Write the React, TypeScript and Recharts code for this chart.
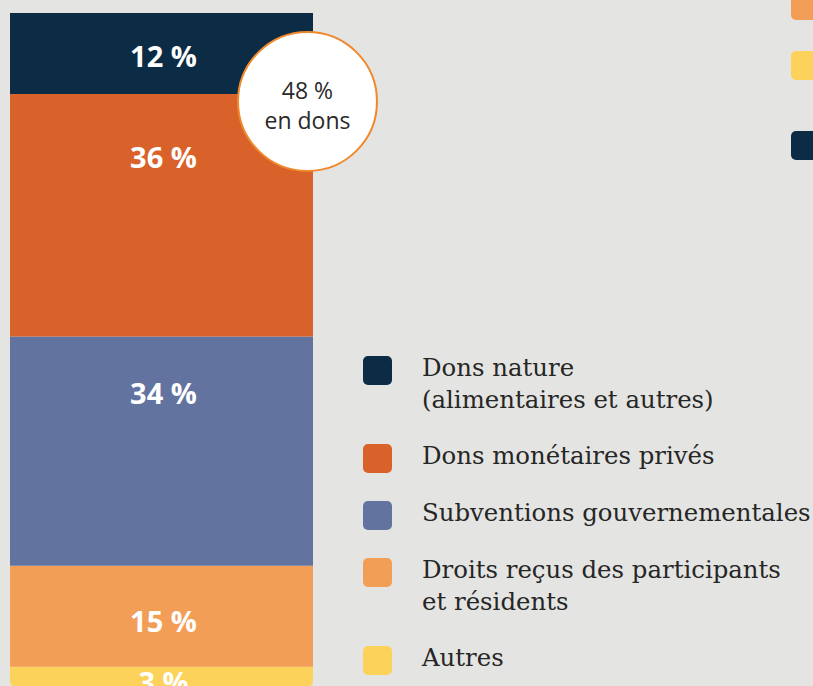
import React from 'react';
import { BarChart, Bar, XAxis, YAxis, Legend } from 'recharts';

const categories = ['Revenus'];
const seriesKeys = ['autres', 'droits', 'subventions', 'donsMonetaires', 'donsNature'];
const seriesNames = [
  'Autres',
  'Droits reçus des participants\net résidents',
  'Subventions gouvernementales',
  'Dons monétaires privés',
  'Dons nature\n(alimentaires et autres)',
];
const autres = [3];
const droits = [15];
const subventions = [34];
const donsMonetaires = [36];
const donsNature = [12];
const donsTotalLabel = ['48 %', 'en dons'];

const colors: Record<string, string> = {
  autres: '#fdd25a',
  droits: '#f29e57',
  subventions: '#63739f',
  donsMonetaires: '#d9622a',
  donsNature: '#0b2c44',
};
const labelOffsets: Record<string, number> = {
  autres: 15,
  droits: 55,
  subventions: 56,
  donsMonetaires: 63,
  donsNature: 42,
};

const seriesValues: Record<string, number[]> = { autres, droits, subventions, donsMonetaires, donsNature };

const data = categories.map((c, i) => {
  const row: Record<string, any> = { name: c };
  seriesKeys.forEach((k) => (row[k] = seriesValues[k][i]));
  return row;
});

const BG = '#e4e4e2';

const makeLabel = (key: string) => (p: any) => {
  const x = Number(p.x), y = Number(p.y), w = Number(p.width);
  const idx = typeof p.index === 'number' ? p.index : 0;
  const v = seriesValues[key][idx];
  return (
    <text
      x={x + w / 2 + 2}
      y={y + labelOffsets[key]}
      textAnchor="middle"
      dominantBaseline="central"
      fill="#ffffff"
      fontFamily="'Open Sans', sans-serif"
      fontWeight={700}
      fontSize={29}
    >
      {`${v} %`}
    </text>
  );
};

const legendOrder = ['donsNature', 'donsMonetaires', 'subventions', 'droits', 'autres'];

const LegendContent = () => (
  <div style={{ display: 'flex', flexDirection: 'column', gap: 24 }}>
    {legendOrder.map((k) => {
      const name = seriesNames[seriesKeys.indexOf(k)];
      return (
        <div key={k} style={{ display: 'flex', alignItems: 'flex-start' }}>
          <div
            style={{
              width: 29,
              height: 29,
              borderRadius: 5,
              background: colors[k],
              marginTop: 4,
              marginRight: 30,
              flexShrink: 0,
            }}
          />
          <div
            style={{
              fontFamily: "'DejaVu Serif', serif",
              fontSize: 24.4,
              lineHeight: '32px',
              color: '#262626',
              whiteSpace: 'pre',
              textAlign: 'left',
            }}
          >
            {name}
          </div>
        </div>
      );
    })}
  </div>
);

export default function App() {
  return (
    <div
      style={{
        position: 'absolute',
        left: 0,
        top: 0,
        width: 813,
        height: 686,
        overflow: 'hidden',
        background: BG,
      }}
    >
      <BarChart
        width={813}
        height={687}
        data={data}
        margin={{ top: 13, left: 10, right: 500.5, bottom: 0 }}
        barCategoryGap={0}
        barGap={0}
      >
        <XAxis dataKey="name" hide />
        <YAxis hide domain={[0, 100]} allowDataOverflow />
        <Legend
          content={<LegendContent />}
          layout="horizontal"
          verticalAlign="middle"
          align="center"
          wrapperStyle={{ position: 'absolute', left: 363, top: 352, width: 460 }}
        />
        {seriesKeys.map((k, i) => (
          <Bar
            key={k}
            dataKey={k}
            name={seriesNames[i]}
            stackId="a"
            fill={colors[k]}
            isAnimationActive={false}
            radius={k === 'autres' ? [0, 0, 6, 6] : 0}
            label={makeLabel(k)}
          />
        ))}
      </BarChart>

      <div
        style={{
          position: 'absolute',
          left: 237,
          top: 31,
          width: 141,
          height: 141,
          boxSizing: 'border-box',
          borderRadius: '50%',
          border: '2.5px solid #f0892c',
          background: '#ffffff',
          display: 'flex',
          flexDirection: 'column',
          alignItems: 'center',
          justifyContent: 'center',
          fontFamily: "'Open Sans', sans-serif",
          fontSize: 23,
          fontWeight: 500,
          lineHeight: '30px',
          color: '#2a2a2a',
          paddingTop: 6,
        }}
      >
        {donsTotalLabel.map((t) => (
          <div key={t}>{t}</div>
        ))}
      </div>

      {['droits', 'autres', 'donsNature'].map((k, i) => (
        <div
          key={k}
          style={{
            position: 'absolute',
            left: 791,
            top: [-9, 51, 131][i],
            width: 29,
            height: 29,
            borderRadius: 5,
            background: colors[k],
          }}
        />
      ))}
    </div>
  );
}
